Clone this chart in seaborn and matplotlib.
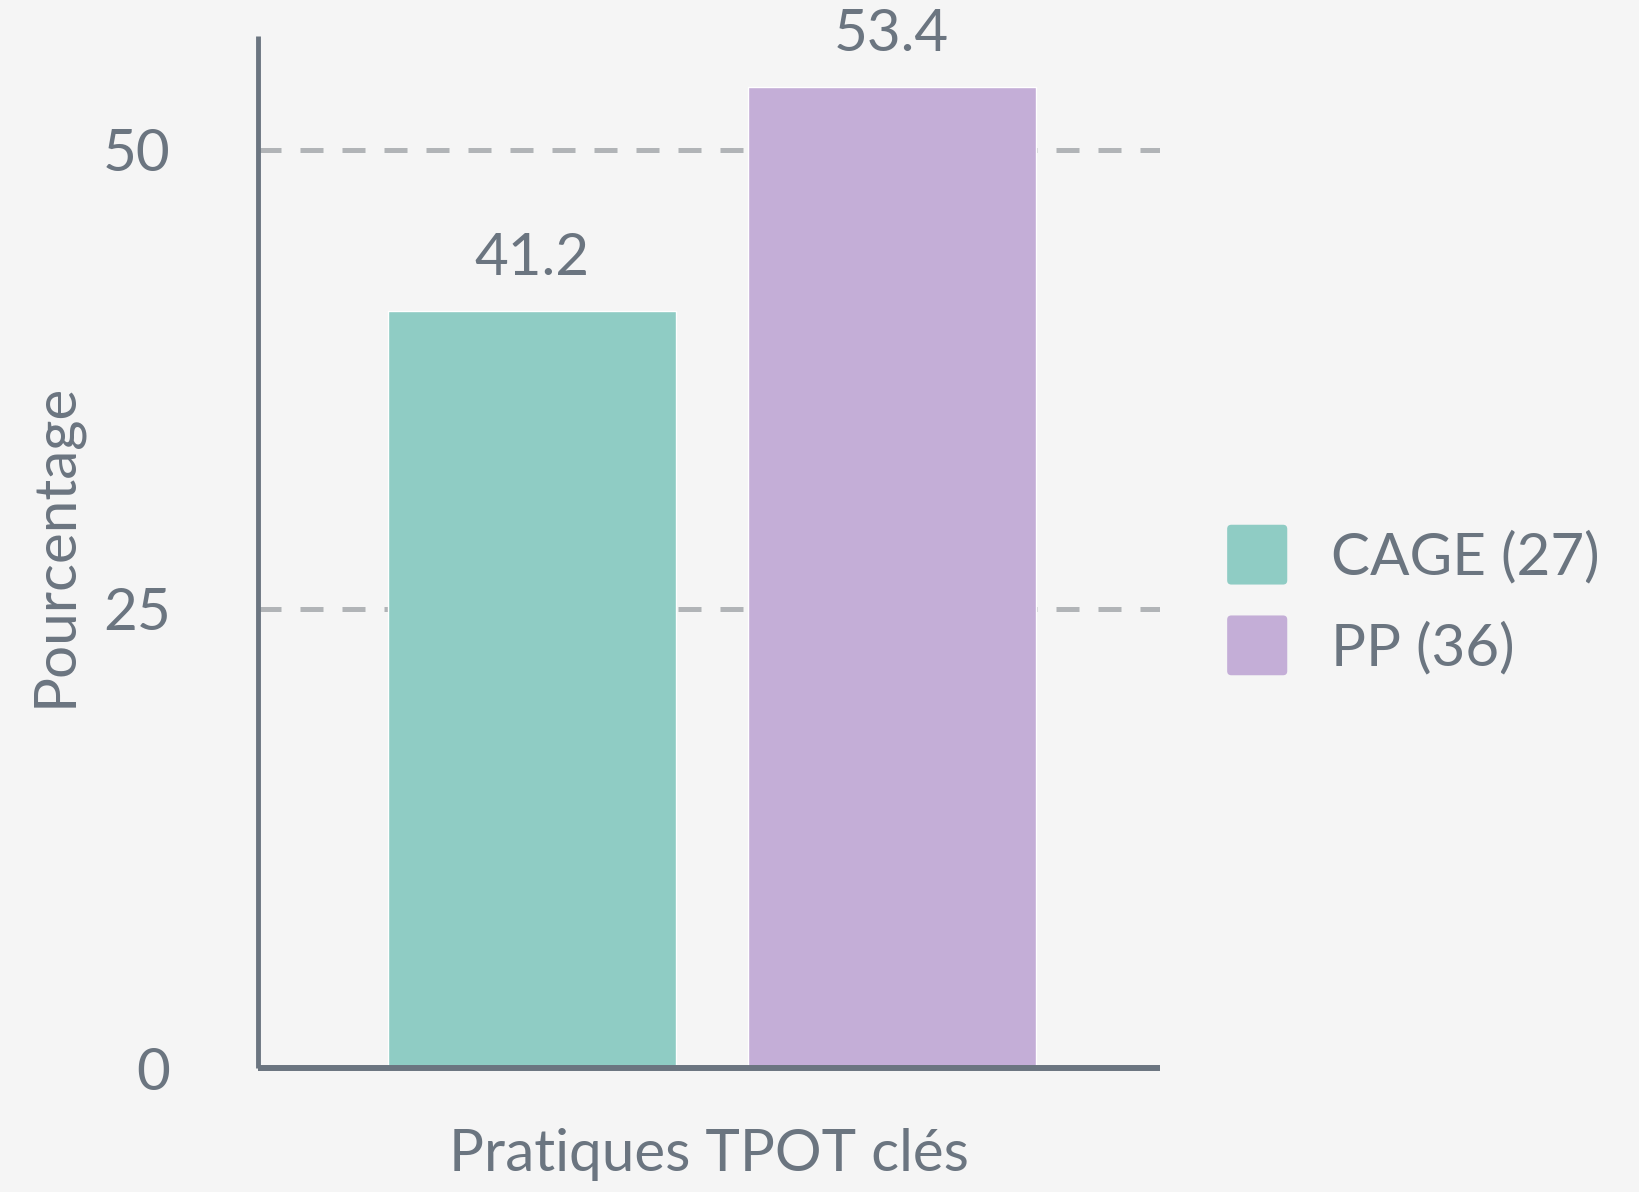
import matplotlib
matplotlib.use("Agg")
import matplotlib.pyplot as plt
import seaborn as sns
import pandas as pd
from matplotlib.patches import Patch, FancyBboxPatch
from matplotlib.legend_handler import HandlerPatch

groups = ["CAGE (27)", "PP (36)"]
values = [41.2, 53.4]
colors = ["#8fccc4", "#c4aed7"]
y_ticks = [0, 25, 50]
x_title = "Pratiques TPOT clés"
y_title = "Pourcentage"

TEXT = "#6b7580"
BG = "#f5f5f5"
GRID = "#b1b4b7"

sns.set_theme(style="white")
plt.rcParams["font.family"] = ["Lato", "DejaVu Sans"]

W, H = 1639, 1192
dpi = 100
fig = plt.figure(figsize=(W / dpi, H / dpi), dpi=dpi, facecolor=BG)
ax_left, ax_right, ax_top, ax_bot = 258, 1160, 36, 1068
ax = fig.add_axes([ax_left / W, 1 - ax_bot / H, (ax_right - ax_left) / W, (ax_bot - ax_top) / H])
ax.set_facecolor(BG)

df = pd.DataFrame({"group": groups, "value": values})
sns.barplot(data=df, x="group", y="value", hue="group", palette=colors,
            width=0.8, ax=ax, legend=False, saturation=1, zorder=3)

ax.set_ylim(0, 56.2)
ax.set_xlim(-0.76, 1.745)
ax.set_yticks(y_ticks)
ax.set_yticklabels([str(t) for t in y_ticks])
ax.set_xticks([])
ax.tick_params(axis="y", length=0, pad=63, labelsize=42, labelcolor=TEXT)

for t in [25, 50]:
    ax.axhline(t, color=GRID, lw=3.6, ls=(0, (4.6, 3.8)), zorder=1)

for c in ax.containers:
    ax.bar_label(c, labels=[f"{v:.1f}" for v in c.datavalues], padding=19,
                 fontsize=42, color=TEXT)

for s in ["top", "right"]:
    ax.spines[s].set_visible(False)
ax.spines["left"].set_color(TEXT)
ax.spines["left"].set_linewidth(3.5)
ax.spines["left"].set_capstyle("butt")
ax.spines["bottom"].set_color(TEXT)
ax.spines["bottom"].set_linewidth(4.3)
ax.spines["bottom"].set_capstyle("butt")
ax.spines["bottom"].set_zorder(4)

ax.set_xlabel(x_title, fontsize=42, color=TEXT)
ax.set_ylabel(y_title, fontsize=42, color=TEXT)
ax.xaxis.set_label_coords(0.5, -0.058)
ax.yaxis.set_label_coords(-0.195, 0.507)


def round_patch(legend, orig_handle, xdescent, ydescent, width, height, fontsize):
    return FancyBboxPatch((-xdescent, -ydescent), width, height,
                          boxstyle="round,pad=0,rounding_size=3")


handles = [Patch(facecolor=col, edgecolor="none", label=g) for g, col in zip(groups, colors)]
leg = fig.legend(handles=handles, loc="center left", bbox_to_anchor=(1198 / W, 1 - 600 / H),
                 frameon=False, fontsize=42, labelcolor=TEXT, handlelength=1.03,
                 handleheight=1.2, handletextpad=0.75, labelspacing=0.53, borderpad=0,
                 handler_map={Patch: HandlerPatch(patch_func=round_patch)})

fig.savefig("out.png", dpi=dpi, facecolor=BG)
